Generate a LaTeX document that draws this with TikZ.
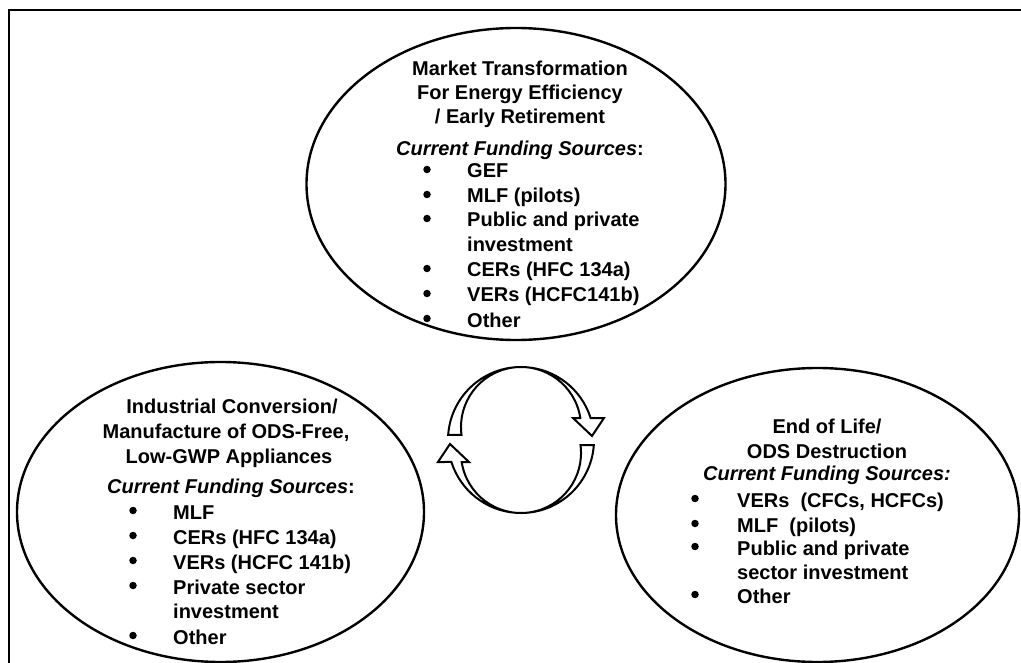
\documentclass[tikz,border=0pt]{standalone}
\usepackage{fontspec}
\setmainfont{Liberation Sans}
\usetikzlibrary{shapes.geometric}
\begin{document}
\begin{tikzpicture}[x=1pt,y=-1pt,
  txt/.style={anchor=base, inner sep=0pt, font=\fontsize{20}{24}\selectfont\bfseries},
  item/.style={txt, anchor=base west},
  bul/.style={circle, fill, inner sep=0pt, minimum size=7.5pt, yshift=8.5pt},
  oval/.style={ellipse, draw, line width=2.4pt, inner sep=0pt},
  cyc/.style={draw, line width=2pt, fill=white, line join=miter},
  frame/.style={line width=2.2pt}]
\useasboundingbox (0,0) rectangle (1021,663);
\draw[frame] (1021,10) -- (9,10) -- (9,663);

% ellipses
\node[oval, minimum width=419pt, minimum height=312pt] (topE) at (516,184) {};
\node[oval, minimum width=407pt, minimum height=300pt] (leftE) at (220.5,512) {};
\node[oval, minimum width=403pt, minimum height=294pt] (rightE) at (817.5,515) {};

% top ellipse text
\node[txt] (t1) at (520,76) {Market Transformation};
\node[txt] (t2) at (520,100) {For Energy Efficiency};
\node[txt] (t3) at (520,124) {/ Early Retirement};
\node[txt] (t4) at (520,156) {\itshape Current Funding Sources\upshape:};
\node[bul] (tb1) at (427,178) {};
\node[item] (ti1) at (467,178) {GEF};
\node[bul] (tb2) at (427,203) {};
\node[item] (ti2) at (467,203) {MLF (pilots)};
\node[bul] (tb3) at (427,227) {};
\node[item] (ti3) at (467,227) {Public and private};
\node[item] (ti3b) at (467,252) {investment};
\node[bul] (tb4) at (427,277) {};
\node[item] (ti4) at (467,277) {CERs (HFC 134a)};
\node[bul] (tb5) at (427,302) {};
\node[item] (ti5) at (467,302) {VERs (HCFC141b)};
\node[bul] (tb6) at (427,327) {};
\node[item] (ti6) at (467,327) {Other};

% left ellipse text
\node[txt] (l1) at (232,413) {Industrial Conversion/};
\node[txt] (l2) at (226,438) {Manufacture of ODS-Free,};
\node[txt] (l3) at (229,463) {Low-GWP Appliances};
\node[txt] (l4) at (231,493) {\itshape Current Funding Sources\upshape:};
\node[bul] (lb1) at (133,519) {};
\node[item] (li1) at (173,519) {MLF};
\node[bul] (lb2) at (133,544) {};
\node[item] (li2) at (173,544) {CERs (HFC 134a)};
\node[bul] (lb3) at (133,569) {};
\node[item] (li3) at (173,569) {VERs (HCFC 141b)};
\node[bul] (lb4) at (133,594) {};
\node[item] (li4) at (173,594) {Private sector};
\node[item] (li4b) at (173,618) {investment};
\node[bul] (lb5) at (133,644) {};
\node[item] (li5) at (173,644) {Other};

% right ellipse text
\node[txt] (r1) at (827,433) {End of Life/};
\node[txt] (r2) at (827,458) {ODS Destruction};
\node[txt] (r3) at (827,480) {\itshape Current Funding Sources:};
\node[bul] (rb1) at (695,507) {};
\node[item] (ri1) at (737,507) {VERs~ (CFCs, HCFCs)};
\node[bul] (rb2) at (695,532) {};
\node[item] (ri2) at (737,532) {MLF~ (pilots)};
\node[bul] (rb3) at (695,555) {};
\node[item] (ri3) at (737,555) {Public and private};
\node[item] (ri3b) at (737,579) {sector investment};
\node[bul] (rb4) at (695,603) {};
\node[item] (ri4) at (737,603) {Other};

% circular arrows
\begin{scope}[shift={(521,440)}, yscale=-1]
  \draw[cyc] (176.07:73) arc[start angle=176.07, end angle=17.54, radius=73]
    -- (83,22) -- (71,4) -- (52,22) -- (59.3,22)
    arc[start angle=8.63, end angle=187.66, radius=60] -- cycle;
\end{scope}
\begin{scope}[shift={(521,440)}, yscale=-1, rotate=180]
  \draw[cyc] (176.07:73) arc[start angle=176.07, end angle=17.54, radius=73]
    -- (83,22) -- (71,4) -- (52,22) -- (59.3,22)
    arc[start angle=8.63, end angle=187.66, radius=60] -- cycle;
\end{scope}
\end{tikzpicture}
\end{document}
